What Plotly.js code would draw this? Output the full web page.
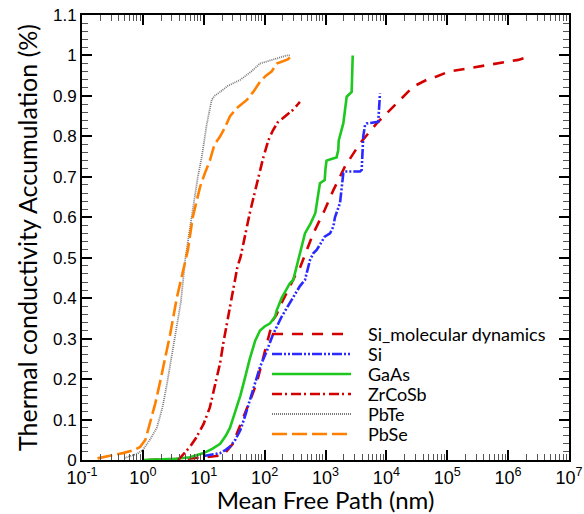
<!DOCTYPE html>
<html>
<head>
<meta charset="utf-8">
<script src="https://cdn.plot.ly/plotly-3.0.1.min.js"></script>
<style>html,body{margin:0;padding:0;background:#fff;}#chart{width:584px;height:514px;}</style>
</head>
<body>
<div id="chart"></div>
<script>
// Series names (legend order)
const seriesNames = ["Si_molecular dynamics", "Si", "GaAs", "ZrCoSb", "PbTe", "PbSe"];

// Si_molecular dynamics
const siMdX = [1.2, 5, 11, 21, 30, 44, 57, 74, 90, 109, 123, 137, 158, 178, 262, 340, 380, 490, 630, 970, 1346, 2080, 3690, 6920, 10700, 12600, 27700, 52000, 67000, 105000, 326000, 1470000, 2150000];
const siMdY = [0.0, 0.003, 0.007, 0.012, 0.04, 0.10, 0.145, 0.19, 0.24, 0.29, 0.32, 0.346, 0.36, 0.38, 0.43, 0.465, 0.475, 0.52, 0.56, 0.618, 0.667, 0.725, 0.783, 0.832, 0.861, 0.87, 0.923, 0.944, 0.948, 0.96, 0.972, 0.989, 0.997];

// Si
const siX = [10, 14, 18.6, 23, 27, 33, 40, 48, 57, 70, 84, 109, 137, 190, 262, 380, 460, 556, 630, 716, 970, 1186, 1346, 1430, 1730, 1963, 2080, 3690, 3930, 4170, 4460, 4750, 7360, 7850];
const siY = [0.01, 0.014, 0.017, 0.025, 0.033, 0.05, 0.074, 0.11, 0.148, 0.19, 0.23, 0.27, 0.31, 0.354, 0.39, 0.43, 0.445, 0.494, 0.511, 0.519, 0.552, 0.56, 0.577, 0.60, 0.635, 0.709, 0.713, 0.713, 0.717, 0.80, 0.828, 0.832, 0.836, 0.906];

// GaAs
const gaasX = [1.0, 1.9, 3.5, 5.9, 10, 14, 18.6, 23, 27, 33, 40, 47, 57, 70, 84, 100, 123, 148, 158, 190, 225, 260, 295, 357, 400, 460, 570, 680, 810, 970, 1000, 1040, 1250, 1520, 1620, 1650, 1960, 2100, 2230, 2690, 2800];
const gaasY = [0.0, 0.001, 0.003, 0.007, 0.017, 0.028, 0.04, 0.06, 0.08, 0.12, 0.16, 0.2, 0.25, 0.295, 0.32, 0.33, 0.338, 0.354, 0.37, 0.40, 0.42, 0.437, 0.445, 0.494, 0.525, 0.56, 0.585, 0.61, 0.684, 0.692, 0.72, 0.74, 0.744, 0.748, 0.766, 0.79, 0.832, 0.865, 0.898, 0.91, 1.0];

// ZrCoSb
const zrX = [3.8, 4.5, 5.9, 7.5, 8.7, 10, 12.6, 16, 18.6, 21, 25, 29, 33, 36, 40, 48, 57, 66, 74, 94, 115, 137, 165, 200, 240, 290, 355, 380];
const zrY = [0.0, 0.012, 0.032, 0.055, 0.074, 0.09, 0.13, 0.195, 0.24, 0.29, 0.354, 0.40, 0.45, 0.48, 0.50, 0.56, 0.61, 0.65, 0.68, 0.745, 0.79, 0.815, 0.835, 0.845, 0.855, 0.865, 0.88, 0.885];

// PbTe
const pbteX = [0.5, 0.8, 1.0, 1.3, 1.7, 2.1, 2.5, 3.2, 4.2, 5.0, 6.6, 8.0, 9.3, 11.2, 13.5, 15, 18.6, 25, 40, 60, 84, 110, 137, 180, 230, 260];
const pbteY = [0.005, 0.015, 0.025, 0.05, 0.08, 0.13, 0.19, 0.29, 0.39, 0.50, 0.625, 0.70, 0.75, 0.83, 0.89, 0.90, 0.91, 0.925, 0.94, 0.96, 0.98, 0.985, 0.99, 0.995, 1.0, 1.0];

// PbSe
const pbseX = [0.18, 0.3, 0.47, 0.7, 0.9, 1.1, 1.3, 1.6, 1.9, 2.3, 2.8, 3.6, 4.4, 5.5, 6.6, 8.7, 10.5, 12.6, 15, 18.6, 22, 27, 35, 51, 65, 84, 105, 130, 158, 200, 240, 280];
const pbseY = [0.004, 0.01, 0.017, 0.024, 0.032, 0.05, 0.09, 0.14, 0.19, 0.25, 0.31, 0.40, 0.46, 0.52, 0.60, 0.675, 0.71, 0.74, 0.78, 0.80, 0.82, 0.85, 0.87, 0.89, 0.91, 0.935, 0.95, 0.96, 0.98, 0.985, 0.99, 1.0];

// Axis ticks
const xTickVals = [0.1, 1, 10, 100, 1000, 10000, 100000, 1000000, 10000000];
const xTickText = ["10<sup>-1</sup>", "10<sup>0</sup>", "10<sup>1</sup>", "10<sup>2</sup>", "10<sup>3</sup>", "10<sup>4</sup>", "10<sup>5</sup>", "10<sup>6</sup>", "10<sup>7</sup>"];
const xTitle = "Mean Free Path (nm)";
const yTitle = "Thermal conductivity Accumulation (%)";

const styles = [
  {color: "#d40000", dash: "11px,9px", width: 2.6},
  {color: "#2a2aff", dash: "10px,2px,2px,2px,2px,2px", width: 2.6},
  {color: "#1ec81e", dash: "solid", width: 2.6},
  {color: "#d40000", dash: "10px,3px,2px,4px", width: 2.6},
  {color: "#7a7a7a", dash: "1px,1px", width: 1.8},
  {color: "#ff8000", dash: "15px,5px", width: 2.6}
];
const xs = [siMdX, siX, gaasX, zrX, pbteX, pbseX];
const ys = [siMdY, siY, gaasY, zrY, pbteY, pbseY];

const traces = seriesNames.map((n, i) => ({
  type: "scatter", mode: "lines", name: n, x: xs[i], y: ys[i],
  line: {color: styles[i].color, dash: styles[i].dash, width: styles[i].width},
  showlegend: false
}));

// minor x ticks
const xMinor = [];
for (let d = -1; d < 7; d++) for (let k = 2; k <= 9; k++) xMinor.push(k * Math.pow(10, d));

// manual legend (shapes + text)
const legRowsPx = [334, 354, 374, 394, 414, 434];
const plotL = 82, plotW = 487, plotT = 15, plotH = 445;
const shapes = [], annotations = [];
legRowsPx.forEach((py, i) => {
  const yp = (plotT + plotH - py) / plotH;
  shapes.push({type: "line", xref: "paper", yref: "paper", x0: (272 - plotL) / plotW, x1: (351 - plotL) / plotW, y0: yp, y1: yp,
    line: {color: styles[i].color, dash: styles[i].dash, width: styles[i].width}});
  annotations.push({xref: "paper", yref: "paper", x: (368 - plotL) / plotW, y: yp, xanchor: "left", yanchor: "middle",
    height: 19.5, valign: "middle", borderpad: 0, borderwidth: 0,
    text: seriesNames[i], showarrow: false, font: {family: "Lato", size: 18, color: "#000"}});
});

const axisCommon = {
  showline: true, linewidth: 2, linecolor: "#000", mirror: "ticks",
  ticks: "inside", ticklen: 10, tickwidth: 2, tickcolor: "#000",
  showgrid: false, zeroline: false,
  tickfont: {family: "Liberation Sans, Arial, sans-serif", size: 18, color: "#000"}
};

const layout = {
  width: 584, height: 514,
  margin: {l: 82, r: 15, t: 15, b: 54},
  paper_bgcolor: "#fff", plot_bgcolor: "#fff",
  xaxis: Object.assign({}, axisCommon, {
    type: "log", range: [-1, 7], tickmode: "array", tickvals: xTickVals, ticktext: xTickText,
    minor: {tickmode: "array", tickvals: xMinor, ticks: "inside", ticklen: 6, tickwidth: 1, tickcolor: "#555", showgrid: false},
    title: {text: xTitle, font: {family: "Lato", size: 24, color: "#000"}, standoff: 15}
  }),
  yaxis: Object.assign({}, axisCommon, {
    range: [0, 1.1], dtick: 0.1, tick0: 0,
    tickfont: {family: "Liberation Sans, Arial, sans-serif", size: 17, color: "#000"},
    minor: {dtick: 0.02, ticks: "inside", ticklen: 6, tickwidth: 1, tickcolor: "#555", showgrid: false},
    title: {text: yTitle, font: {family: "Lato", size: 25, color: "#000"}, standoff: 8}
  }),
  shapes: shapes,
  annotations: annotations,
  showlegend: false
};

Plotly.newPlot("chart", traces, layout, {displayModeBar: false, staticPlot: true});
</script>
</body>
</html>
